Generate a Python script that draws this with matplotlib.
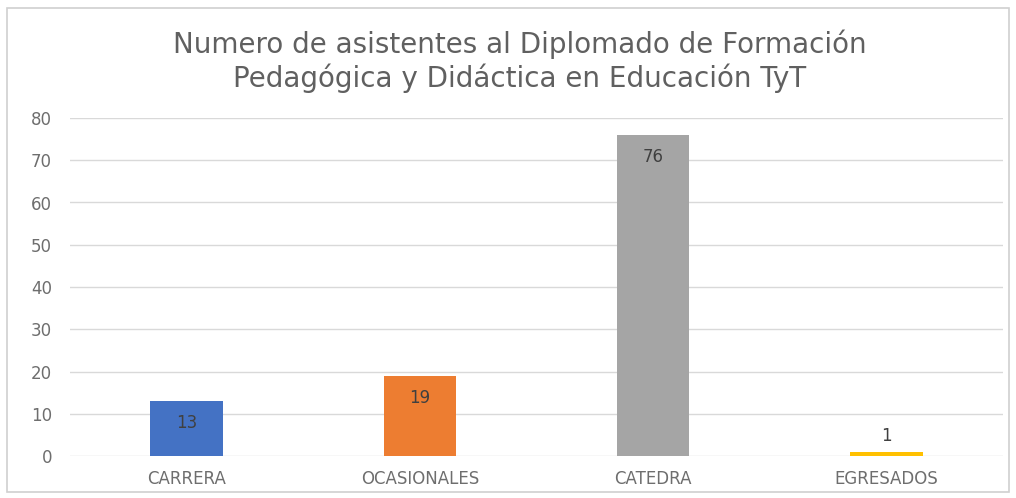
import matplotlib
matplotlib.use("Agg")
import matplotlib.pyplot as plt
from matplotlib.patches import Rectangle

categories = ["CARRERA", "OCASIONALES", "CATEDRA", "EGRESADOS"]
values = [13, 19, 76, 1]
colors = ["#4472C4", "#ED7D31", "#A5A5A5", "#FFC000"]
yticks = [0, 10, 20, 30, 40, 50, 60, 70, 80]
title = "Numero de asistentes al Diplomado de Formación\nPedagógica y Didáctica en Educación TyT"

plt.rcParams['font.family'] = ['DejaVu Sans']

fig = plt.figure(figsize=(10.16, 4.98), dpi=100)
fig.patch.set_facecolor("white")
fig.patches.append(Rectangle((7/1016, 6/498), 1002/1016, 484/498, transform=fig.transFigure,
                             fill=False, edgecolor="#D0D0D0", linewidth=1.2))

ax = fig.add_axes([70/1016, 42/498, 933/1016, 338/498])
x = list(range(len(categories)))
bars = ax.bar(x, values, width=0.31, color=colors, zorder=3)
ax.set_xlim(-0.5, len(categories) - 0.5)
ax.set_ylim(0, 80)
ax.set_yticks(yticks)
ax.set_yticklabels([str(t) for t in yticks])
ax.set_xticks(x)
ax.set_xticklabels(categories)
ax.tick_params(axis='both', length=0, colors="#6E6E6E", labelsize=12)
ax.tick_params(axis='y', pad=13)
ax.tick_params(axis='x', pad=10)
ax.grid(axis='y', color="#D9D9D9", linewidth=1, zorder=0)
for s in ax.spines.values():
    s.set_visible(False)

for xi, v in zip(x, values):
    if v >= 5:
        ax.annotate(str(v), (xi, v), xytext=(0, -16), textcoords="offset points",
                    ha="center", va="center", fontsize=12, color="#404040", zorder=4)
    else:
        ax.annotate(str(v), (xi, v), xytext=(0, 11), textcoords="offset points",
                    ha="center", va="center", fontsize=12, color="#404040", zorder=4)

fig.text(520/1016, 1 - 61/498, title, ha="center", va="center", fontsize=20,
         color="#606060", linespacing=1.2)

fig.savefig("out.png", dpi=100, facecolor="white")
